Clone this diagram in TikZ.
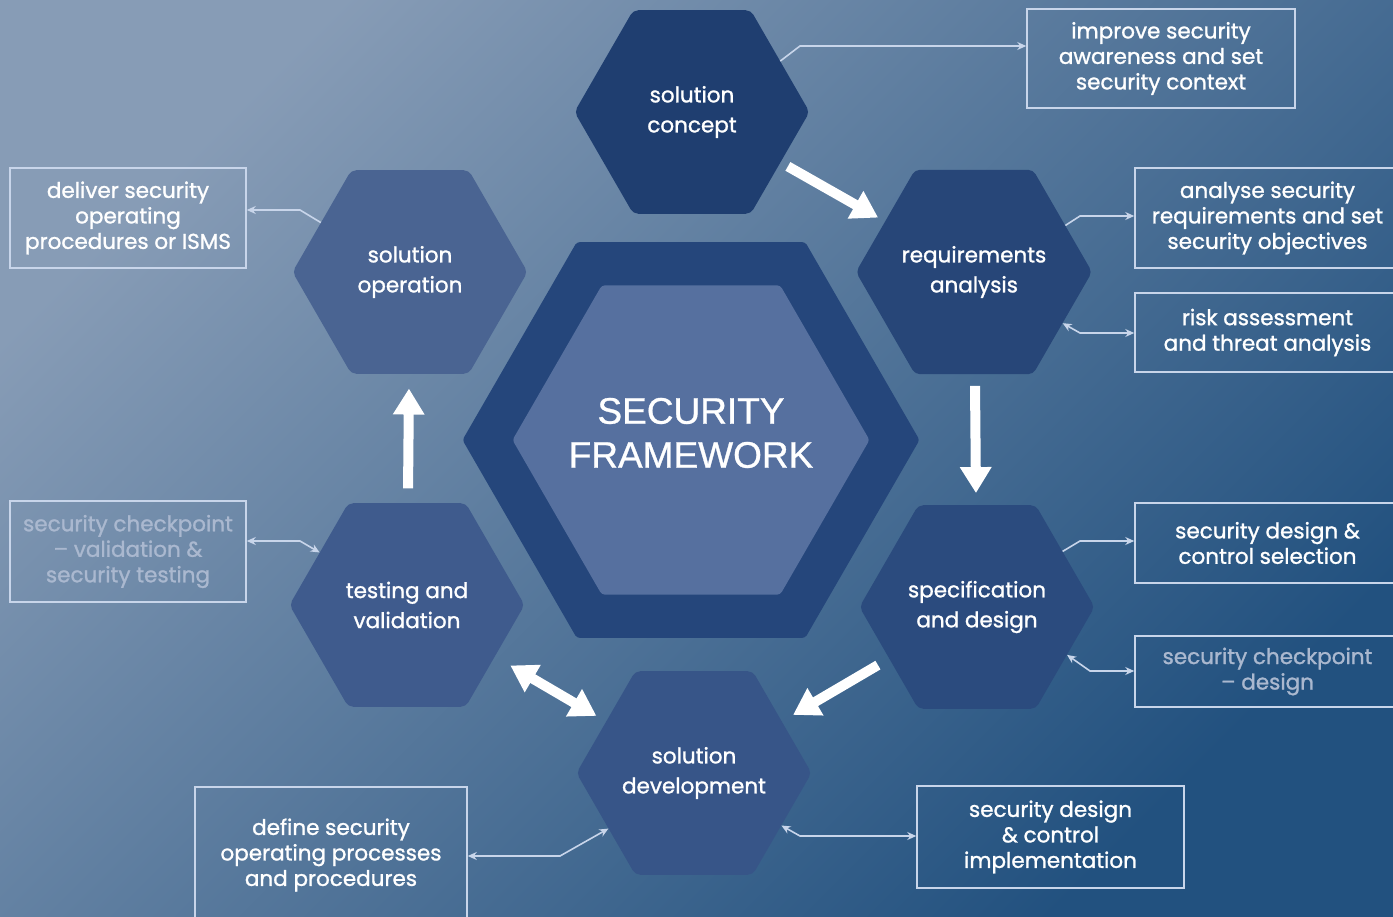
\documentclass[tikz,border=0pt]{standalone}
\usepackage{fontspec}
\setmainfont{Poppins}[FakeBold=1.2]
\newfontfamily\headfont{Liberation Sans}[FakeBold=0.8]
\usetikzlibrary{shapes.geometric,arrows.meta,calc}
\definecolor{bgA}{HTML}{879CB6}
\definecolor{bgB}{HTML}{22517F}
\definecolor{hexSC}{HTML}{1F3E70}
\definecolor{hexRA}{HTML}{274678}
\definecolor{hexSD}{HTML}{2B4B7E}
\definecolor{hexDV}{HTML}{375588}
\definecolor{hexTV}{HTML}{3F5B8D}
\definecolor{hexOP}{HTML}{4A6492}
\definecolor{ringC}{HTML}{25467B}
\definecolor{innerC}{HTML}{56709F}
\definecolor{lineC}{HTML}{C8D5EA}
\definecolor{greyT}{HTML}{AAB8CF}
\begin{document}
\begin{tikzpicture}[x=1pt,y=-1pt,
  hexa/.style={regular polygon, regular polygon sides=6, minimum size=235pt,
    inner sep=0pt, text=white, align=center, rounded corners=5pt,
    font=\fontsize{21.5}{30}\selectfont},
  box/.style={draw=lineC, line width=1.5pt, align=center, text=white,
    inner sep=0pt, font=\fontsize{21.5}{25.5}\selectfont},
  conn/.style={draw=lineC, line width=1.6pt, -{Stealth[length=9pt,width=8pt]}},
  connb/.style={draw=lineC, line width=1.6pt, {Stealth[length=9pt,width=8pt]}-{Stealth[length=9pt,width=8pt]}},
  bigarrow/.style={draw=white, line width=10pt, -{Triangle[length=26pt,width=30pt]}},
  bigarrowb/.style={draw=white, line width=10pt, {Triangle[length=26pt,width=30pt]}-{Triangle[length=26pt,width=30pt]}}
]
\useasboundingbox (0,0) rectangle (1393,917);
\clip (0,0) rectangle (1393,917);
\shade[top color=bgA, bottom color=bgB, shading angle=45] (0,0) rectangle (1393,917);

% central framework
\node[regular polygon, regular polygon sides=6, minimum size=457pt, inner sep=0pt,
      fill=ringC, rounded corners=3pt] (fw) at (691,440) {};
\node[regular polygon, regular polygon sides=6, minimum size=357pt, inner sep=0pt,
      fill=innerC, rounded corners=3pt] (fwi) at (691,440) {};
\node[text=white, align=center, font=\headfont\fontsize{37}{44}\selectfont] (fwt) at (691,433) {SECURITY\\FRAMEWORK};

% phase hexagons
\node[hexa, fill=hexSC] (sc) at (692,112) {solution\\concept};
\node[hexa, fill=hexRA] (ra) at (974,272) {requirements\\analysis};
\node[hexa, fill=hexSD] (sd) at (977,607) {specification\\and design};
\node[hexa, fill=hexDV] (dv) at (694,773) {solution\\development};
\node[hexa, fill=hexTV] (tv) at (407,605) {testing and\\validation};
\node[hexa, fill=hexOP] (op) at (410,272) {solution\\operation};

% cycle arrows
\draw[bigarrow] ($(sc)!0.34!(ra)$) -- ($(sc)!0.66!(ra)$);
\draw[bigarrow] ($(ra)!0.34!(sd)$) -- ($(ra)!0.66!(sd)$);
\draw[bigarrow] ($(sd)!0.35!(dv)$) -- ($(sd)!0.65!(dv)$);
\draw[bigarrowb] ($(dv)!0.34!(tv)$) -- ($(dv)!0.64!(tv)$);
\draw[bigarrow] ($(tv)!0.35!(op)$) -- ($(tv)!0.65!(op)$);

% text boxes
\node[box, minimum width=268pt, minimum height=99pt] (bImp) at (1161,58.5) {improve security\\awareness and set\\security context};
\node[box, minimum width=265pt, minimum height=100pt] (bAna) at (1267.5,218) {analyse security\\requirements and set\\security objectives};
\node[box, minimum width=265pt, minimum height=79pt] (bRisk) at (1267.5,332.5) {risk assessment\\and threat analysis};
\node[box, minimum width=265pt, minimum height=80pt] (bSel) at (1267.5,543) {security design \&\\control selection};
\node[box, minimum width=265pt, minimum height=71pt, text=greyT] (bCpD) at (1267.5,671.5) {security checkpoint\\– design};
\node[box, minimum width=267pt, minimum height=102pt] (bImpl) at (1050.5,837) {security design\\\& control\\implementation};
\node[box, minimum width=272pt, minimum height=136pt] (bDef) at (331,855) {define security\\operating processes\\and procedures};
\node[box, minimum width=236pt, minimum height=101pt, text=greyT] (bCpV) at (128,551.5) {security checkpoint\\– validation \&\\security testing};
\node[box, minimum width=236pt, minimum height=100pt] (bDel) at (128,218) {deliver security\\operating\\procedures or ISMS};

% bend points
\coordinate (k1) at (800,46);
\coordinate (k2) at (1080,216);
\coordinate (k3) at (1080,333);
\coordinate (k4) at (1080,541);
\coordinate (k5) at (1090,671);
\coordinate (k6) at (800,836);
\coordinate (k7) at (560,856);
\coordinate (k8) at (300,541);
\coordinate (k9) at (300,210);

% thin connectors
\draw[conn]  (sc.30)  -- (k1) -- (k1 -| bImp.west);
\draw[conn]  (ra.27)  -- (k2) -- (k2 -| bAna.west);
\draw[connb] (ra.-30) -- (k3) -- (k3 -| bRisk.west);
\draw[conn]  (sd.33)  -- (k4) -- (k4 -| bSel.west);
\draw[connb] (sd.-28) -- (k5) -- (k5 -| bCpD.west);
\draw[connb] (dv.-31) -- (k6) -- (k6 -| bImpl.west);
\draw[connb] (dv.213) -- (k7) -- (k7 -| bDef.east);
\draw[connb] (tv.149) -- (k8) -- (k8 -| bCpV.east);
\draw[conn]  (op.151) -- (k9) -- (k9 -| bDel.east);
\end{tikzpicture}
\end{document}
